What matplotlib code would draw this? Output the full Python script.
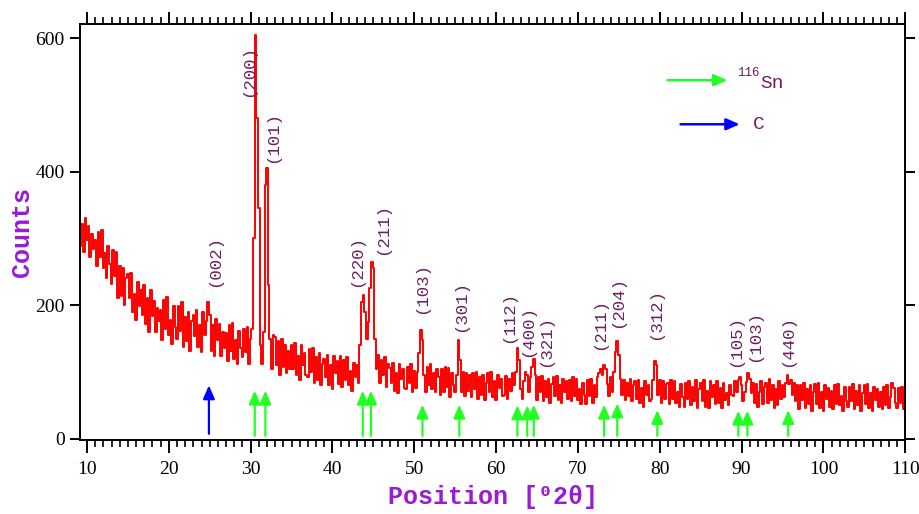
import numpy as np
import matplotlib
matplotlib.use('Agg')
import matplotlib.pyplot as plt
from matplotlib.ticker import MultipleLocator

# 2-theta grid (0.2 deg steps) and counts
two_theta = np.round(np.arange(9.0, 110.01, 0.2), 1)
counts = [
    338, 288, 322, 280, 330, 298, 318, 272, 306, 284,   # 9
    298, 258, 310, 272, 312, 256, 278, 240, 288, 262,   # 11
    232, 282, 244, 280, 210, 258, 214, 255, 200, 240,   # 13
    246, 210, 248, 190, 216, 178, 234, 198, 222, 186,   # 15
    230, 172, 210, 160, 222, 184, 206, 160, 196, 176,   # 17
    192, 148, 208, 164, 212, 155, 178, 142, 198, 168,   # 19
    150, 198, 162, 204, 138, 182, 146, 190, 132, 176,   # 21
    186, 154, 192, 138, 170, 130, 190, 156, 176, 205,   # 23
    186, 132, 170, 124, 180, 148, 172, 124, 160, 136,   # 25
    158, 116, 170, 132, 174, 120, 148, 112, 162, 136,   # 27
    122, 164, 130, 168, 112, 150, 165, 300, 605, 480,   # 29
    345, 140, 112, 160, 380, 405, 230, 150, 104, 156,   # 31
    152, 110, 146, 96, 150, 108, 140, 98, 132, 104,     # 33
    140, 104, 144, 96, 124, 88, 140, 110, 128, 96,      # 35
    92, 134, 100, 136, 84, 122, 88, 128, 80, 112,       # 37
    120, 92, 126, 80, 110, 74, 124, 98, 116, 82,        # 39
    124, 78, 118, 88, 122, 80, 102, 72, 114, 92,        # 41
    110, 84, 140, 205, 215, 190, 150, 175, 225, 265,    # 43
    255, 150, 104, 126, 84, 118, 96, 122, 78, 112,      # 45
    106, 84, 114, 72, 98, 68, 112, 90, 104, 76,         # 47
    74, 108, 84, 112, 70, 102, 76, 100, 128, 163,       # 49
    148, 96, 70, 108, 80, 112, 74, 98, 70, 104,         # 51
    92, 66, 104, 70, 108, 78, 106, 62, 98, 80,          # 53
    70, 96, 148, 118, 70, 100, 64, 98, 72, 96,          # 55
    62, 98, 74, 100, 60, 92, 66, 96, 58, 84,            # 57
    98, 70, 100, 62, 86, 58, 96, 76, 90, 64,            # 59
    66, 94, 60, 90, 72, 98, 80, 100, 136, 118,          # 61
    75, 60, 86, 100, 96, 70, 92, 108, 120, 95,          # 63
    58, 92, 70, 94, 56, 86, 62, 90, 54, 82,             # 65
    92, 64, 94, 58, 80, 54, 90, 70, 86, 60,             # 67
    88, 56, 92, 64, 90, 58, 74, 52, 84, 66,             # 69
    52, 88, 64, 90, 54, 80, 62, 92, 98, 104,            # 71
    96, 110, 104, 82, 64, 92, 70, 100, 130, 147,        # 73
    125, 90, 66, 88, 58, 84, 64, 90, 56, 80,            # 75
    86, 60, 88, 54, 76, 48, 86, 66, 80, 56,             # 77
    60, 88, 117, 110, 66, 88, 54, 86, 60, 82,           # 79
    84, 52, 88, 60, 86, 54, 70, 48, 82, 62,             # 81
    48, 84, 60, 86, 50, 78, 56, 88, 46, 74,             # 83
    84, 56, 88, 48, 72, 46, 86, 62, 80, 52,             # 85
    86, 54, 76, 46, 84, 58, 68, 50, 80, 66,             # 87
    64, 86, 70, 88, 93, 80, 56, 70, 85, 99,             # 89
    90, 68, 84, 54, 82, 48, 70, 86, 52, 78,             # 91
    84, 54, 90, 58, 80, 46, 74, 50, 86, 60,             # 93
    80, 62, 84, 95, 82, 88, 66, 84, 56, 80,             # 95
    44, 80, 58, 84, 46, 74, 52, 80, 42, 70,             # 97
    82, 52, 84, 46, 70, 42, 80, 60, 76, 48,             # 99
    72, 44, 80, 52, 82, 50, 64, 42, 78, 56,             # 101
    48, 78, 56, 82, 44, 72, 50, 80, 42, 68,             # 103
    80, 52, 82, 46, 68, 42, 78, 58, 74, 48,             # 105
    70, 44, 78, 50, 80, 46, 62, 84, 76, 54,             # 107
    46, 76, 54, 78, 44, 70,                             # 109
]

# Miller index labels (x, bottom of text)
hkl_labels = ['(002)', '(200)', '(101)', '(220)', '(211)', '(103)', '(301)', '(112)',
              '(400)', '(321)', '(211)', '(204)', '(312)', '(105)', '(103)', '(440)']
hkl_x = [25.6, 29.8, 32.7, 42.9, 46.1, 50.9, 55.7, 61.5,
         63.9, 66.0, 72.6, 74.9, 79.5, 89.3, 91.6, 95.6]
hkl_y = [227, 512, 413, 227, 275, 187, 160, 144,
         123, 108, 133, 166, 148, 108, 115, 108]

# reference peak markers
sn_pos = [30.5, 31.8, 43.7, 44.7, 51.0, 55.5, 62.6, 63.8, 64.6, 73.2, 74.8, 79.7, 89.6, 90.7, 95.7]
sn_top = [76, 76, 76, 76, 55, 55, 54, 54, 55, 55, 57, 47, 46, 46, 47]
c_pos = [24.9]
c_top = [84]

label_col = '#6e1f63'
axis_col = '#9a1ad6'

fig = plt.figure(figsize=(9.2, 5.14), dpi=100)
ax = fig.add_axes([0.087, 0.144, 0.897, 0.809])

ax.plot(two_theta, counts, color='#ff0000', lw=1.4, drawstyle='steps-mid')

arrow_style = '-|>,head_length=0.8,head_width=0.35'
for x, top in zip(sn_pos, sn_top):
    ax.annotate('', xy=(x, top), xytext=(x, 0),
                arrowprops=dict(arrowstyle=arrow_style, color='#22ff22', lw=1.6, mutation_scale=10))
for x, top in zip(c_pos, c_top):
    ax.annotate('', xy=(x, top), xytext=(x, 3),
                arrowprops=dict(arrowstyle=arrow_style, color='#0000ff', lw=1.6, mutation_scale=10))

for lab, x, y in zip(hkl_labels, hkl_x, hkl_y):
    ax.text(x, y, lab, rotation=90, ha='center', va='bottom', color=label_col,
            fontsize=12.5, family=['Liberation Mono', 'DejaVu Sans Mono'])

# key
ax.annotate('', xy=(88.6, 537), xytext=(80.6, 537),
            arrowprops=dict(arrowstyle=arrow_style, color='#22ff22', lw=1.8, mutation_scale=10))
ax.annotate('', xy=(90.1, 471), xytext=(82.2, 471),
            arrowprops=dict(arrowstyle=arrow_style, color='#0000ff', lw=1.8, mutation_scale=10))
ax.text(89.5, 548, '116', fontsize=9, color=label_col, va='center', family='Liberation Mono')
ax.text(92.3, 532, 'Sn', fontsize=14, color=label_col, va='center', family='Liberation Mono')
ax.text(91.4, 471, 'C', fontsize=14, color=label_col, va='center', family='Liberation Mono')

ax.set_xlim(9.15, 110)
ax.set_ylim(-2, 621)
ax.xaxis.set_major_locator(MultipleLocator(10))
ax.xaxis.set_minor_locator(MultipleLocator(1))
ax.set_yticks([0, 200, 400, 600])

ax.tick_params(axis='x', which='major', direction='out', length=9, width=1.4,
               top=True, pad=6, labelsize=14)
ax.tick_params(axis='x', which='minor', direction='out', length=5, width=1.2, top=True)
ax.tick_params(axis='y', which='major', direction='out', length=7, width=1.4,
               right=True, pad=4, labelsize=14)
for lbl in ax.get_xticklabels() + ax.get_yticklabels():
    lbl.set_family('Liberation Serif')
for s in ax.spines.values():
    s.set_linewidth(1.4)

ax.set_xlabel('Position [⁰2θ]', fontsize=18, fontweight='bold', color=axis_col,
              family=['Liberation Mono', 'DejaVu Sans Mono'], labelpad=5)
ax.set_ylabel('Counts', fontsize=18, fontweight='bold', color=axis_col,
              family='Liberation Mono', labelpad=1)

fig.savefig('out.png', dpi=100)
